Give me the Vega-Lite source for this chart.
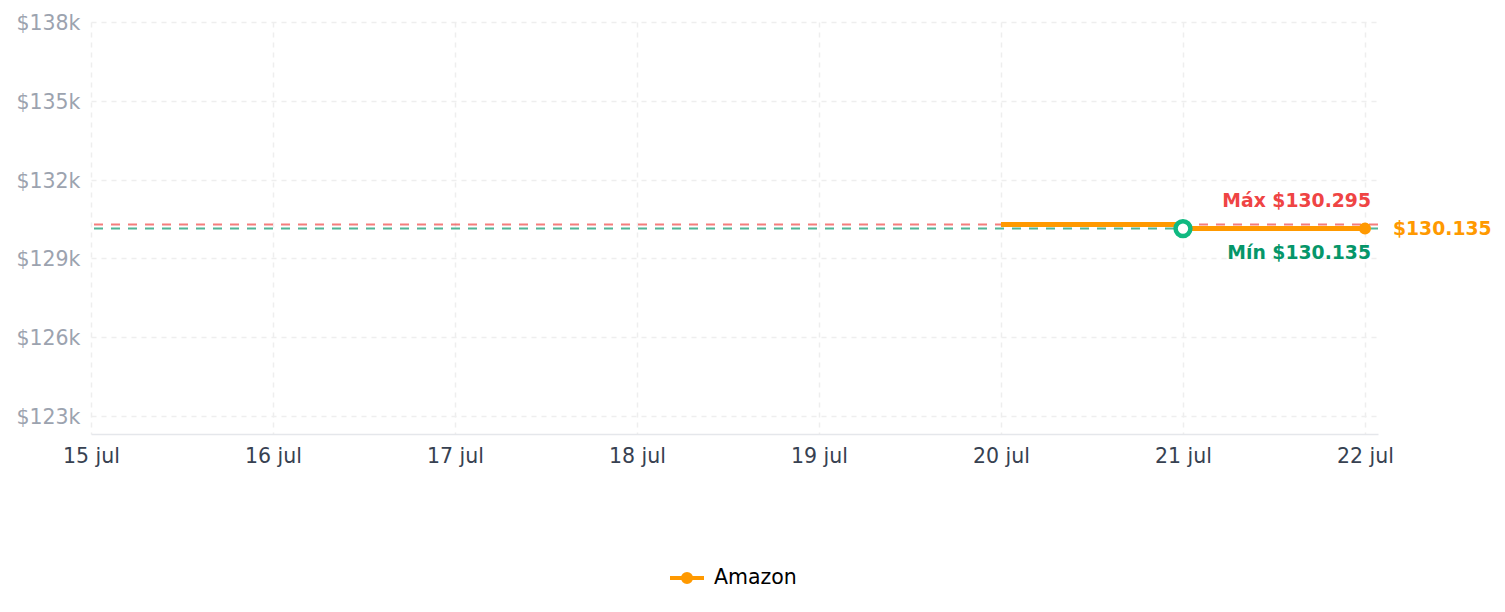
{
  "$schema": "https://vega.github.io/schema/vega-lite/v6.json",
  "width": 1287,
  "height": 412,
  "autosize": {"type": "none"},
  "padding": {"left": 91, "top": 22, "right": 127, "bottom": 178},
  "datasets": {
    "prices": [
      {"date": "2024-07-20", "price": 130295, "store": "Amazon"},
      {"date": "2024-07-21", "price": 130135, "store": "Amazon"},
      {"date": "2024-07-22", "price": 130135, "store": "Amazon"}
    ],
    "maxref": [{"date": "2024-07-22", "price": 130295, "label": "Máx $130.295"}],
    "minref": [{"date": "2024-07-22", "price": 130135, "label": "Mín $130.135"}],
    "minpt": [{"date": "2024-07-21", "price": 130135}],
    "last": [{"date": "2024-07-22", "price": 130135, "label": "$130.135"}]
  },
  "layer": [
    {
      "data": {"name": "maxref"},
      "mark": {"type": "rule", "color": "#ef4444", "opacity": 0.7, "strokeWidth": 2, "strokeDash": [9, 8]},
      "encoding": {
        "y": {"field": "price", "type": "quantitative", "scale": {"domain": [122315, 138000], "nice": false, "zero": false}}
      }
    },
    {
      "data": {"name": "minref"},
      "mark": {"type": "rule", "color": "#059669", "opacity": 0.7, "strokeWidth": 2, "strokeDash": [9, 8]},
      "encoding": {
        "y": {"field": "price", "type": "quantitative", "scale": {"domain": [122315, 138000], "nice": false, "zero": false}}
      }
    },
    {
      "data": {"name": "prices"},
      "mark": {"type": "line", "interpolate": "step-after", "strokeWidth": 5},
      "encoding": {
        "x": {
          "field": "date", "type": "temporal",
          "scale": {"type": "utc", "domain": [{"year": 2024, "month": 7, "date": 15, "utc": true}, {"year": 2024, "month": 7, "date": 22, "hours": 1, "minutes": 43, "utc": true}]},
          "axis": {
            "title": null,
            "tickCount": {"interval": "day", "step": 1},
            "labelExpr": "utcFormat(datum.value, '%-d') + ' jul'",
            "labelFlush": false, "labelOverlap": false,
            "grid": true, "gridDash": [5, 5], "gridColor": "#eeeeee", "gridWidth": 1.5,
            "ticks": false, "domainColor": "#e5e7eb", "domainWidth": 1.5,
            "labelColor": "#374151", "labelFontSize": 20.5, "labelPadding": 12, "labelFont": "DejaVu Sans"
          }
        },
        "y": {
          "field": "price", "type": "quantitative",
          "scale": {"domain": [122315, 138000], "nice": false, "zero": false},
          "axis": {
            "title": null,
            "values": [123000, 126000, 129000, 132000, 135000, 138000],
            "labelExpr": "'$' + format(datum.value / 1000, 'd') + 'k'",
            "grid": true, "gridDash": [5, 5], "gridColor": "#eeeeee", "gridWidth": 1.5,
            "domain": false, "ticks": false, "labelOffset": 1.5,
            "labelColor": "#9ca3af", "labelFontSize": 20.5, "labelPadding": 11, "labelFont": "DejaVu Sans"
          }
        },
        "color": {
          "field": "store", "type": "nominal",
          "scale": {"domain": ["Amazon"], "range": ["#ff9900"]},
          "legend": {
            "title": null,
            "orient": "none", "legendX": 577, "legendY": 537,
            "symbolType": "M-1,0L1,0M-0.24,0A0.24,0.24,0,1,0,0.24,0A0.24,0.24,0,1,0,-0.24,0",
            "symbolSize": 1156, "symbolStrokeWidth": 4,
            "symbolStrokeColor": "#ff9900", "symbolFillColor": "#ff9900",
            "labelFontSize": 20.5, "labelColor": "#000000", "labelFont": "DejaVu Sans", "labelOffset": 8
          }
        }
      }
    },
    {
      "data": {"name": "last"},
      "mark": {"type": "point", "shape": "circle", "filled": true, "size": 144, "color": "#ff9900", "opacity": 1},
      "encoding": {
        "x": {"field": "date", "type": "temporal"},
        "y": {"field": "price", "type": "quantitative"}
      }
    },
    {
      "data": {"name": "minpt"},
      "mark": {"type": "point", "shape": "circle", "filled": true, "fill": "#ffffff", "stroke": "#10b981", "strokeWidth": 4.5, "size": 220, "opacity": 1},
      "encoding": {
        "x": {"field": "date", "type": "temporal"},
        "y": {"field": "price", "type": "quantitative"}
      }
    },
    {
      "data": {"name": "maxref"},
      "mark": {"type": "text", "align": "right", "baseline": "middle", "dx": 6, "dy": -23, "font": "DejaVu Sans", "fontWeight": "bold", "fontSize": 18.8, "color": "#ef4444"},
      "encoding": {
        "x": {"field": "date", "type": "temporal"},
        "y": {"field": "price", "type": "quantitative"},
        "text": {"field": "label"}
      }
    },
    {
      "data": {"name": "minref"},
      "mark": {"type": "text", "align": "right", "baseline": "middle", "dx": 6, "dy": 24.5, "font": "DejaVu Sans", "fontWeight": "bold", "fontSize": 18.8, "color": "#059669"},
      "encoding": {
        "x": {"field": "date", "type": "temporal"},
        "y": {"field": "price", "type": "quantitative"},
        "text": {"field": "label"}
      }
    },
    {
      "data": {"name": "last"},
      "mark": {"type": "text", "align": "left", "baseline": "middle", "dx": 28, "font": "DejaVu Sans", "fontWeight": "bold", "fontSize": 18.8, "color": "#ff9900"},
      "encoding": {
        "x": {"field": "date", "type": "temporal"},
        "y": {"field": "price", "type": "quantitative"},
        "text": {"field": "label"}
      }
    }
  ],
  "config": {
    "font": "DejaVu Sans",
    "view": {"stroke": null}
  }
}
